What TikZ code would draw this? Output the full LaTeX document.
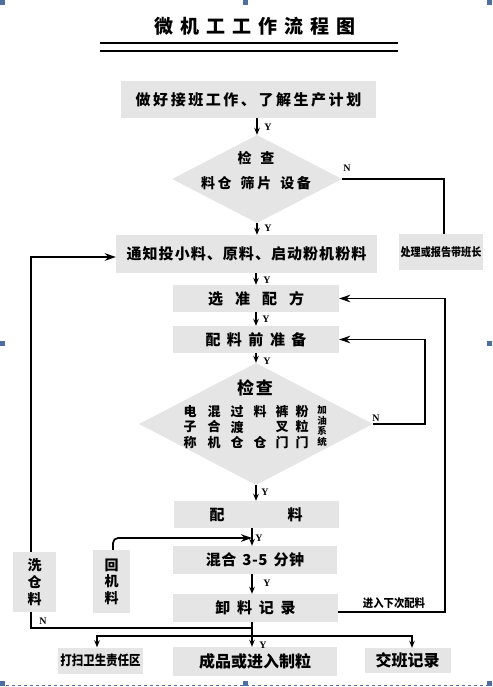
\documentclass[tikz,border=0pt]{standalone}
\usepackage{fontspec}
\setmainfont{Noto Sans CJK SC}
\newfontfamily\ynfont{Liberation Serif}
\usetikzlibrary{shapes.geometric, arrows.meta}
\definecolor{handleblue}{RGB}{79,110,160}
\newcommand{\fs}[2]{\fontsize{#1}{#2}\bfseries}
\newcommand{\ls}[1]{\addfontfeature{LetterSpace=#1}}
\newcommand{\gap}[1]{\hspace{#1pt}}

\begin{document}
\begin{tikzpicture}[x=1pt, y=-1pt,
	box/.style={fill=black!10, inner sep=0pt},
	dia/.style={diamond, fill=black!10, inner sep=0pt},
	col/.style={align=center, inner sep=0pt, font=\fs{13}{15.5}},
	line/.style={line width=1.7pt},
	arr/.style={line width=1.7pt, -{Stealth[length=7pt, width=5.5pt]}},
	bigarr/.style={line width=1.7pt, -{Stealth[length=11pt, width=7.5pt]}},
	yes/.style={inner sep=0pt, font=\ynfont\fontsize{10}{10}\bfseries}]
	\useasboundingbox (0,0) rectangle (492,687);
	\node[font=\fs{19}{19}\ls{37}] (title) at (255,26) {微机工工作流程图};
	\draw[line width=1.8pt] (100,43) -- (398,43);
	\draw[line width=1.8pt] (100,51) -- (398,51);
	% boxes
	\node[box, minimum width=255pt, minimum height=37pt, font=\fs{15}{15}\ls{17}] (plan) at (248.5,99.5) {做好接班工作、了解生产计划};
	\node[dia, minimum width=170pt, minimum height=88pt] (check1) at (257,179) {};
	\node[align=center, inner sep=0pt, font=\fs{14}{25}\ls{18}] (check1t) at (256,170.5) {检\gap{9}查\\料仓\gap{9}筛片\gap{9}设备};
	\node[box, minimum width=84pt, minimum height=36pt, font=\fs{11.5}{11.5}\addfontfeature{FakeStretch=0.88}] (report) at (441,252) {处理或报告带班长};
	\node[box, minimum width=261pt, minimum height=38pt, font=\fs{15}{15}\ls{7}] (feed) at (246.5,254) {通知投小料、原料、启动粉机粉料};
	\node[box, minimum width=166pt, minimum height=27pt, font=\fs{15}{15}] (recipe) at (256,298.5) {选\gap{12}准\gap{12}配\gap{12}方};
	\node[box, minimum width=166pt, minimum height=27pt, font=\fs{15}{15}] (prep) at (256,339.5) {配\gap{6.5}料\gap{6.5}前\gap{6.5}准\gap{6.5}备};
	\node[dia, minimum width=234pt, minimum height=122pt] (check2) at (256,424) {};
	\node[inner sep=0pt, font=\fs{17}{17}] (check2t) at (255,388) {检\gap{2}查};
	\node[col] (scale) at (190,427) {电\\子\\称};
	\node[col] (mixer) at (214,427) {混\\合\\机};
	\node[col] (buffer) at (237,427) {过\\渡\\仓};
	\node[col] (bin) at (260,427) {料\\\mbox{}\\仓};
	\node[col] (forkgate) at (282,427) {裤\\叉\\门};
	\node[col] (pelletgate) at (302,427) {粉\\粒\\门};
	\node[align=center, inner sep=0pt, font=\fs{9.5}{10.5}] (oiling) at (322,426) {加\\油\\系\\统};
	\node[box, minimum width=165pt, minimum height=27pt, font=\fs{15}{15}] (batch) at (256,514.5) {配\gap{63}料};
	\node[box, minimum width=164pt, minimum height=28pt, font=\fs{15}{15}\ls{4}] (mix) at (255,560) {混合\gap{6}3-5\gap{6}分钟};
	\node[box, minimum width=165pt, minimum height=28pt, font=\fs{15}{15}] (unload) at (255.5,608) {卸\gap{6.7}料\gap{6.7}记\gap{6.7}录};
	\node[box, minimum width=43pt, minimum height=60pt, align=center, font=\fs{14}{17}] (wash) at (34.5,582) {洗\\仓\\料};
	\node[box, minimum width=37pt, minimum height=63pt, align=center, font=\fs{14}{16.5}] (ret) at (111.5,581.5) {回\\机\\料};
	\node[box, minimum width=85pt, minimum height=26pt, font=\fs{13.5}{13.5}\addfontfeature{FakeStretch=0.85}] (clean) at (100.5,660.5) {打扫卫生责任区};
	\node[box, minimum width=164pt, minimum height=29pt, font=\fs{16}{16}] (out) at (255,661.5) {成品或进入制粒};
	\node[box, minimum width=86pt, minimum height=25pt, font=\fs{16}{16}] (handover) at (407.5,660.5) {交班记录};
	\node[inner sep=0pt, font=\fs{11.5}{11.5}\addfontfeature{FakeStretch=0.9}] (next) at (394,603) {进入下次配料};
	% connectors
	\coordinate (colB) at (252,540);
	\coordinate (split) at (252,636);
	\coordinate (splitL) at (97,636);
	\coordinate (splitR) at (412,636);
	\coordinate (wtop) at (31,257);
	\coordinate (wbot) at (31,628);
	\coordinate (rtop) at (113,538);
	\coordinate (rloop) at (445,612);
	\coordinate (nloop) at (425,380);
	\coordinate (nrep) at (444,230);
	\draw[arr] (plan.south -| check1) -- (check1.north);
	\draw[arr] (check1.south) -- (check1.south |- feed.north);
	\draw[arr] (feed.south -| recipe) -- (recipe.north);
	\draw[arr] (recipe.south) -- (prep.north);
	\draw[arr] (prep.south) -- (check2.north);
	\draw[arr] (check2.south) -- (batch.north);
	\draw[arr] (batch.south -| colB) -- (mix.north -| colB);
	\draw[arr] (mix.south -| colB) -- (unload.north -| colB);
	\draw[arr] (unload.south -| colB) -- (out.north -| colB);
	\draw[arr] (split) -- (splitL) -- (clean.north -| splitL);
	\draw[arr] (split) -- (splitR) -- (handover.north -| splitR);
	\draw[line] (check1.east) -| (report.north -| nrep);
	\draw[bigarr] (check2.east) -| (nloop) |- (prep.east);
	\draw[bigarr] (unload.east |- rloop) -- (rloop) |- (recipe.east);
	\draw[bigarr] (wash.north -| wtop) -- (wtop) -- (feed.west |- wtop);
	\draw[line] (wash.south -| wbot) -- (wbot) -- (wbot -| colB);
	\draw[bigarr, rounded corners=5pt] (ret.north -| rtop) -- (rtop) -- (rtop -| colB);
	% Y / N
	\node[yes] (y1) at (268,127) {Y};
	\node[yes] (y2) at (268,228) {Y};
	\node[yes] (y3) at (267,280) {Y};
	\node[yes] (y4) at (266,319) {Y};
	\node[yes] (y5) at (267,361) {Y};
	\node[yes] (y6) at (265,492) {Y};
	\node[yes] (y7) at (259,538) {Y};
	\node[yes] (y8) at (267,583) {Y};
	\node[yes] (y9) at (263,645) {Y};
	\node[yes] (n1) at (347,168) {N};
	\node[yes] (n2) at (376,418) {N};
	\node[yes] (n3) at (43,621) {N};
	% handles
	\fill[handleblue] (0,0) rectangle (5,5);
	\fill[handleblue] (243,0) rectangle (248,5);
	\fill[handleblue] (487,0) rectangle (492,5);
	\fill[handleblue] (0,341) rectangle (5,346);
	\fill[handleblue] (487,341) rectangle (492,346);
	\fill[handleblue] (0,681) rectangle (5,686);
	\fill[handleblue] (243,681) rectangle (248,686);
	\fill[handleblue] (487,681) rectangle (492,686);
	\draw[handleblue, dashed, line width=0.6pt] (0,685.5) -- (492,685.5);
\end{tikzpicture}
\end{document}
